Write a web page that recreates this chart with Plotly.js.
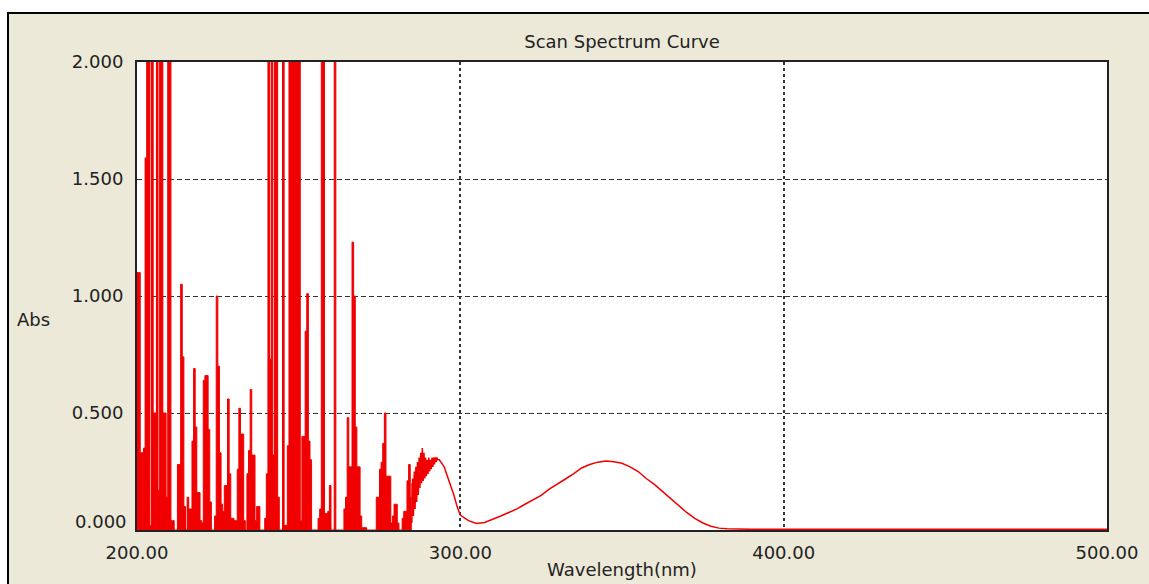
<!DOCTYPE html>
<html><head><meta charset="utf-8">
<script src="https://cdn.plot.ly/plotly-3.0.1.min.js"></script>
<style>
html,body{margin:0;padding:0;background:#fff;width:1149px;height:584px;overflow:hidden}
#frame{position:absolute;left:7px;top:12px;width:1142px;height:572px;border-left:2px solid #000;border-top:2px solid #000;background:#ECE9D8;box-sizing:border-box}
#chart{width:1140px;height:570px}
</style></head><body><div id="frame"><div id="chart"></div></div>
<script>
// Noisy part of the scan, 200.0 - 285.0 nm, sampled every 0.5 nm (values above 2.000 are off-scale)
const noiseStart = 200;
const noiseStep = 0.5;
const noiseAbs = [
 1.10,1.10,0.33,0.33,0.35,1.59,2.5,2.5,0.02,2.5,
 0.50,0.50,2.5,0.17,2.5,2.5,0.50,0.50,0.14,2.5,
 2.5,0.04,0.04,0.00,0.00,0.28,0.28,1.05,0.74,0.10,
 0.00,0.14,0.09,0.09,0.38,0.69,0.44,0.16,0.16,0.04,
 0.03,0.64,0.66,0.66,0.43,0.12,0.00,0.00,0.06,1.00,
 0.70,0.33,0.11,0.08,0.19,0.19,0.56,0.24,0.05,0.05,
 0.04,0.04,0.26,0.52,0.41,0.41,0.04,0.00,0.24,0.34,
 0.60,0.32,0.32,0.04,0.10,0.10,0.00,0.00,0.00,0.05,
 0.24,2.5,0.73,2.5,0.32,2.5,2.5,0.14,0.00,0.00,
 2.5,0.02,0.02,0.36,2.5,2.5,2.5,2.5,2.5,2.5,
 2.5,0.04,0.40,0.40,0.85,1.01,0.38,0.30,0.00,0.00,
 0.00,0.00,0.05,0.09,2.5,2.5,0.07,0.07,0.08,0.19,
 0.00,0.00,2.5,0.00,0.00,0.00,0.00,0.00,0.09,0.14,
 0.48,0.27,0.27,1.23,1.00,0.44,0.27,0.27,0.06,0.01,
 0.01,0.01,0.00,0.00,0.00,0.00,0.00,0.00,0.14,0.14,
 0.26,0.29,0.37,0.50,0.23,0.23,0.23,0.03,0.06,0.11,
 0.11,0.03,0.00,0.00,0.05,0.08,0.08,0.21,0.28,0.14,
 0.20
];
const noiseWl = noiseAbs.map((_, i) => noiseStart + i * noiseStep);

// Band part of the scan, 285 - 500 nm
const bandWl = [
 285,285.25,285.5,285.75,286,286.25,286.5,286.75,287,287.25,
 287.5,287.75,288,288.25,288.5,288.75,289,289.25,289.5,289.75,
 290,290.25,290.5,290.75,291,291.25,291.5,291.75,292,292.25,
 292.5,292.75,293,293.5,294,295,296,297,298,299,
 300,302.5,305,307.5,310,312.5,315,317.5,320,322.5,
 325,327.5,330,332.5,335,337.5,340,342.5,345,347.5,
 350,352.5,355,357.5,360,362.5,365,367.5,370,372.5,
 375,377.5,380,382.5,385,390,400,410,420,430,
 440,450,460,470,480,490,500
];
const bandAbs = [
 0.03,0.22,0.06,0.25,0.09,0.27,0.12,0.29,0.15,0.31,
 0.18,0.33,0.20,0.35,0.21,0.33,0.22,0.31,0.23,0.30,
 0.24,0.31,0.25,0.30,0.26,0.31,0.27,0.31,0.28,0.31,
 0.29,0.31,0.30,0.30,0.29,0.27,0.23,0.19,0.15,0.10,
 0.064,0.040,0.028,0.032,0.045,0.060,0.075,0.090,0.110,0.130,
 0.148,0.175,0.198,0.218,0.240,0.265,0.280,0.290,0.295,0.292,
 0.285,0.270,0.250,0.220,0.195,0.165,0.135,0.105,0.075,0.050,
 0.030,0.016,0.008,0.005,0.004,0.003,0.003,0.003,0.003,0.003,
 0.003,0.003,0.003,0.003,0.003,0.003,0.003
];

const xTickVals = [200, 300, 400, 500];
const xTickLabels = ['200.00', '300.00', '400.00', '500.00'];
const yTickVals = [0, 0.5, 1, 1.5, 2];
const yTickLabels = ['0.000', '0.500', '1.000', '1.500', '2.000'];

const red = 'rgb(240,0,0)';
const font = {family: 'DejaVu Sans, sans-serif', size: 18, color: '#222'};

const traces = [
  {x: noiseWl, y: noiseAbs, type: 'scatter', mode: 'lines',
   line: {color: red, width: 1, shape: 'hv'}, fill: 'tozeroy', fillcolor: red,
   hoverinfo: 'skip', showlegend: false},
  {x: bandWl, y: bandAbs, type: 'scatter', mode: 'lines',
   line: {color: red, width: 1.5}, hoverinfo: 'skip', showlegend: false}
];

const layout = {
  width: 1140, height: 570,
  margin: {l: 128, r: 42, t: 48, b: 54, pad: 0},
  paper_bgcolor: '#ECE9D8', plot_bgcolor: '#FFFFFF',
  font: font,
  showlegend: false,
  title: {text: 'Scan Spectrum Curve', font: font,
          x: 0.5, xref: 'paper', xanchor: 'center', y: 1 - 28 / 570, yref: 'container', yanchor: 'middle'},
  xaxis: {range: [200, 500], tickvals: xTickVals, ticktext: xTickLabels, ticks: '',
          showgrid: true, gridcolor: '#333', griddash: '3px,3px', gridwidth: 2,
          showline: true, mirror: true, linecolor: '#222', linewidth: 2, zeroline: false,
          ticklabelstandoff: 5, automargin: false, fixedrange: true,
          title: {text: 'Wavelength(nm)', font: font, standoff: 2}},
  yaxis: {range: [0, 2], tickvals: yTickVals, ticktext: yTickLabels.map((t, i) => i === 0 ? '' : t), ticks: '',
          showgrid: true, gridcolor: '#333', griddash: '5px,3px', gridwidth: 1,
          showline: true, mirror: true, linecolor: '#222', linewidth: 2, zeroline: false,
          ticklabelstandoff: 8, automargin: false, fixedrange: true},
  annotations: [
    {text: 'Abs', xref: 'paper', yref: 'paper', x: -0.107, y: 0.449, showarrow: false,
     xanchor: 'center', yanchor: 'middle', font: font},
    {text: yTickLabels[0], xref: 'paper', yref: 'y', x: 0, y: yTickVals[0], showarrow: false,
     xanchor: 'right', yanchor: 'middle', xshift: -8, yshift: 9, font: font}
  ]
};

Plotly.newPlot('chart', traces, layout, {staticPlot: true, displayModeBar: false});
</script></body></html>
